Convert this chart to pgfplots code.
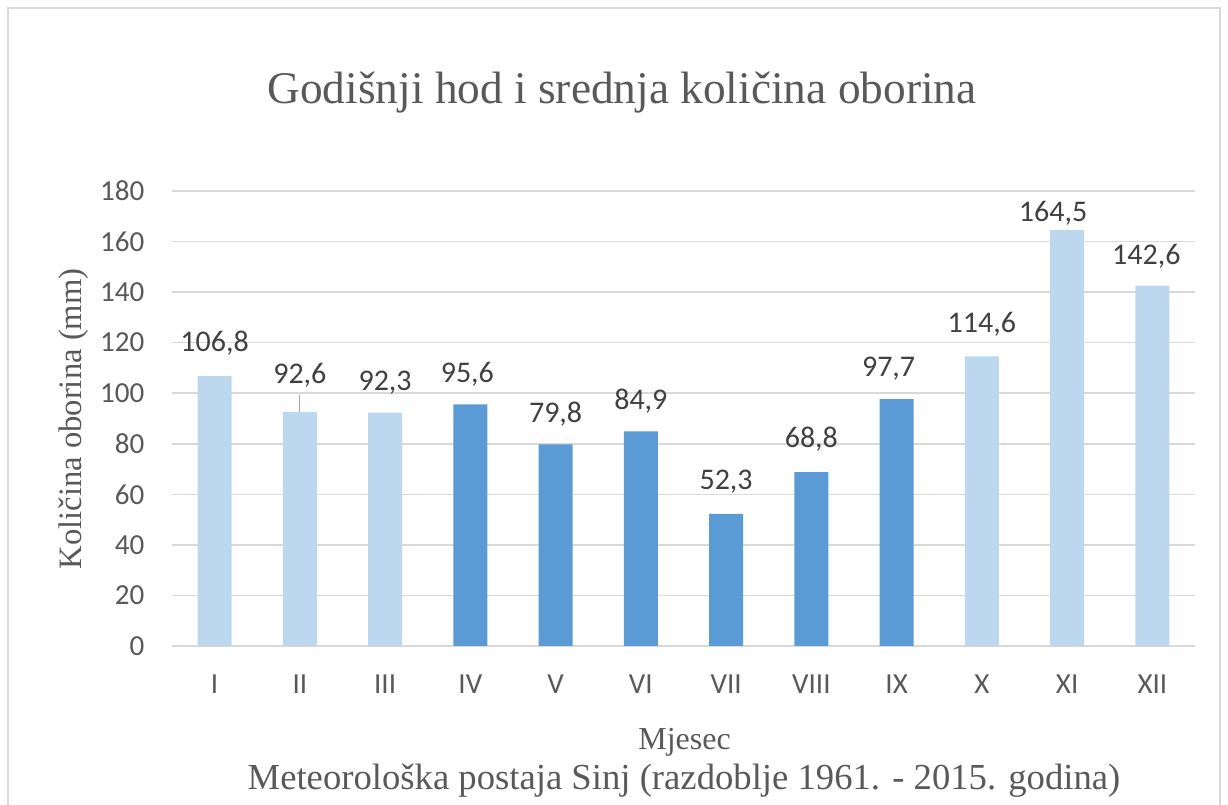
\documentclass[border=0pt]{standalone}
\usepackage{pgfplots}
\pgfplotsset{compat=1.18}
\usepackage{pgfplotstable}
\usepackage{fontspec}
\setmainfont{Liberation Serif}
\newfontfamily\carlito{Carlito}
\definecolor{lightbar}{HTML}{BDD7EE}
\definecolor{darkbar}{HTML}{5B9BD5}
\definecolor{gridgray}{HTML}{D9D9D9}
\definecolor{txtgray}{HTML}{595959}
\definecolor{lblgray}{HTML}{404040}

\pgfplotstableread{
x y dy dx
0 106.8 24.75 0
1 92.6 27.75 0
2 92.3 22.5 0
9 114.6 24 0
10 164.5 12.75 -10.5
11 142.6 22.1 -4.5
}\lighttab
\pgfplotstableread{
x y dy dx
3 95.6 22.5 -2.25
4 79.8 22.5 0
5 84.9 22.5 0
6 52.3 24.4 0
7 68.8 24.75 0
8 97.7 22.5 -6
}\darktab

\begin{document}
\begin{tikzpicture}
\useasboundingbox (-129pt,-119.25pt) rectangle (792pt,484.5pt);
\draw[gridgray, line width=1.5pt, overlay] (-123pt,-130pt) rectangle (786pt,478.5pt);
\begin{axis}[
  at={(0pt,0pt)}, anchor=south west,
  scale only axis,
  width=767.25pt, height=341.25pt,
  xmin=-0.5, xmax=11.5, ymin=0, ymax=180,
  ybar, bar width=25.5pt, bar shift=0pt,
  clip=false,
  axis line style={draw=none},
  major tick length=0pt,
  ytick={0,20,...,180},
  ymajorgrids, grid style={gridgray, line width=1.1pt},
  xtick={0,...,11},
  xticklabels={I,II,III,IV,V,VI,VII,VIII,IX,X,XI,XII},
  /pgf/number format/assume math mode=true,
  tick label style={font=\carlito\fontsize{21.8pt}{26pt}\selectfont, text=txtgray},
  xticklabel style={anchor=base, inner sep=0pt, yshift=-36pt},
  yticklabel style={anchor=east, inner sep=0pt, xshift=-20.5pt},
  nodes near coords,
  nodes near coords style={font=\carlito\fontsize{22.5pt}{27pt}\selectfont, text=lblgray,
     anchor=center, inner sep=0pt, yshift=\dy, xshift=\dx,
     /pgf/number format/.cd, fixed, fixed zerofill, precision=1, use comma},
  visualization depends on={\thisrow{dy}\as\dy},
  visualization depends on={\thisrow{dx}\as\dx},
]
\addplot[fill=lightbar, draw=none] table[x=x, y=y] {\lighttab};
\addplot[fill=darkbar, draw=none] table[x=x, y=y] {\darktab};
\draw[gray!70, line width=0.6pt] (axis cs:1,92.6) -- (axis cs:1,99.2);
\end{axis}
\node[anchor=base, text=txtgray, font=\fontsize{34pt}{40pt}\selectfont] at (337.5pt,407pt) {Godišnji hod i srednja količina oborina};
\node[anchor=base, rotate=90, text=txtgray, font=\fontsize{24.5pt}{29pt}\selectfont] at (-67.7pt,170.25pt) {Količina oborina (mm)};
\node[anchor=base, text=txtgray, font=\fontsize{24pt}{29pt}\selectfont] at (384.4pt,-78pt) {Mjesec};
\node[anchor=base, text=txtgray, font=\fontsize{27.5pt}{33pt}\selectfont] at (384pt,-108pt) {Meteorološka postaja Sinj (razdoblje 1961. - 2015. godina)};
\end{tikzpicture}
\end{document}
